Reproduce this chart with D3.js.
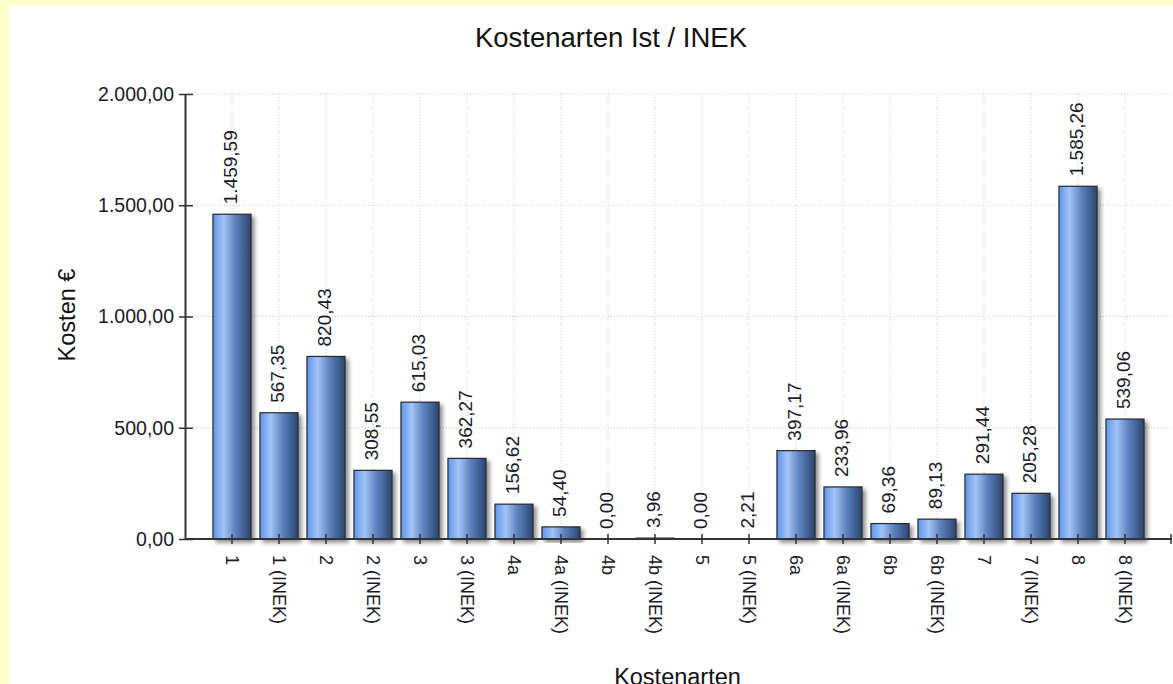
<!DOCTYPE html>
<html>
<head>
<meta charset="utf-8">
<script src="https://cdn.jsdelivr.net/npm/d3@7"></script>
<style>
  body { margin: 0; background: #ffffcc; }
  svg { display: block; font-family: "Liberation Sans", Arial, sans-serif; }
  .grid line { stroke: #c8c8c8; stroke-dasharray: 1,2; }
  .axis path, .axis line { stroke: #333; }
  .axis text { fill: #1a1a2a; }
</style>
</head>
<body>
<svg id="chart"></svg>
<script>
// Kostenarten und Werte
const categories = ["1", "1 (INEK)", "2", "2 (INEK)", "3", "3 (INEK)", "4a", "4a (INEK)", "4b", "4b (INEK)",
  "5", "5 (INEK)", "6a", "6a (INEK)", "6b", "6b (INEK)", "7", "7 (INEK)", "8", "8 (INEK)"];
const costs = [1459.59, 567.35, 820.43, 308.55, 615.03, 362.27, 156.62, 54.40, 0, 3.96,
  0, 2.21, 397.17, 233.96, 69.36, 89.13, 291.44, 205.28, 1585.26, 539.06];
const yTicks = [0, 500, 1000, 1500, 2000];

const width = 1173, height = 684;
const plotLeft = 185, plotRight = 1172, plotTop = 94, plotBottom = 539;

const de = d3.formatLocale({ decimal: ",", thousands: ".", grouping: [3], currency: ["", " €"] });
const fmt = de.format(",.2f");

const svg = d3.select("#chart").attr("width", width).attr("height", height);

// weisser Hintergrund, gelber Rand oben/links
svg.append("rect").attr("x", 9).attr("y", 5).attr("width", width).attr("height", height).attr("fill", "#fff");

const defs = svg.append("defs");
const grad = defs.append("linearGradient").attr("id", "barGrad").attr("x1", "0").attr("x2", "1").attr("y1", "0").attr("y2", "0");
grad.append("stop").attr("offset", "0%").attr("stop-color", "#5f95ea");
grad.append("stop").attr("offset", "28%").attr("stop-color", "#a3c4f6");
grad.append("stop").attr("offset", "60%").attr("stop-color", "#5c80bd");
grad.append("stop").attr("offset", "100%").attr("stop-color", "#2b456f");

const shadow = defs.append("filter").attr("id", "shadow").attr("x", "-20%").attr("y", "-20%").attr("width", "150%").attr("height", "150%");
shadow.append("feDropShadow").attr("dx", 3).attr("dy", 3).attr("stdDeviation", 2)
  .attr("flood-color", "#000").attr("flood-opacity", 0.45);

const x = d3.scaleBand()
  .domain(categories)
  .range([plotLeft + 23.5, plotRight - 23.5])
  .paddingInner(0.19)
  .paddingOuter(0.095);

const y = d3.scaleLinear().domain([0, 2000]).range([plotBottom, plotTop]);

// Gitternetz
const grid = svg.append("g").attr("class", "grid");
grid.selectAll(".h").data(yTicks.slice(1)).enter().append("line")
  .attr("x1", plotLeft).attr("x2", plotRight)
  .attr("y1", d => y(d)).attr("y2", d => y(d));
grid.selectAll(".v").data(categories).enter().append("line")
  .attr("x1", d => x(d) + x.bandwidth() / 2).attr("x2", d => x(d) + x.bandwidth() / 2)
  .attr("y1", plotTop).attr("y2", plotBottom);

const rows = categories.map((c, i) => ({ cat: c, val: costs[i] }));

// Balken
svg.append("g").selectAll("rect")
  .data(rows.filter(d => d.val > 0))
  .enter().append("rect")
  .attr("x", d => x(d.cat))
  .attr("width", x.bandwidth())
  .attr("y", d => y(d.val))
  .attr("height", d => plotBottom - y(d.val))
  .attr("fill", "url(#barGrad)")
  .attr("stroke", "#2a2a2a")
  .attr("stroke-width", 1.2)
  .attr("filter", "url(#shadow)");

// Werte über den Balken
svg.append("g").selectAll("text")
  .data(rows)
  .enter().append("text")
  .attr("transform", d => `translate(${x(d.cat) + x.bandwidth() / 2 - 2},${y(d.val) - 10}) rotate(-90)`)
  .attr("dy", "0.35em")
  .attr("text-anchor", "start")
  .attr("fill", "#1a1a2a")
  .style("font-size", "19px")
  .text(d => fmt(d.val));

// Y-Achse
const yAxis = svg.append("g").attr("class", "axis")
  .attr("transform", `translate(${plotLeft},0)`)
  .call(d3.axisLeft(y).tickValues(yTicks).tickFormat(fmt).tickSize(6).tickSizeOuter(0));
yAxis.select(".domain").attr("stroke-width", 2);
yAxis.selectAll(".tick line").attr("x1", 8).attr("stroke-width", 1.5);
yAxis.selectAll(".tick text").attr("x", -11).style("font-size", "19.5px");

// X-Achse
const xAxis = svg.append("g").attr("class", "axis").attr("transform", `translate(0,${plotBottom})`);
xAxis.append("line").attr("x1", plotLeft).attr("x2", plotRight).attr("stroke", "#333").attr("stroke-width", 2);
xAxis.append("line").attr("x1", plotRight - 1).attr("x2", plotRight - 1).attr("y1", -5).attr("y2", 5).attr("stroke", "#333").attr("stroke-width", 1.5);
const xt = xAxis.selectAll(".tick").data(categories).enter().append("g")
  .attr("transform", d => `translate(${x(d) + x.bandwidth() / 2},0)`);
xt.append("line").attr("y1", -5).attr("y2", 5).attr("stroke", "#333").attr("stroke-width", 1.5);
xt.append("text")
  .attr("transform", "translate(0,16) rotate(90)")
  .attr("dy", "0.35em")
  .attr("text-anchor", "start")
  .style("font-size", "18px")
  .text(d => d);

// Titel und Achsenbeschriftungen
svg.append("text").attr("x", 611).attr("y", 47).attr("text-anchor", "middle")
  .attr("fill", "#111").style("font-size", "27.5px").text("Kostenarten Ist / INEK");
svg.append("text").attr("transform", "translate(75,315) rotate(-90)").attr("text-anchor", "middle")
  .attr("fill", "#111").style("font-size", "23.5px").text("Kosten €");
svg.append("text").attr("x", (plotLeft + plotRight) / 2 - 1).attr("y", 685).attr("text-anchor", "middle")
  .attr("fill", "#111").style("font-size", "23.5px").text("Kostenarten");
</script>
</body>
</html>
